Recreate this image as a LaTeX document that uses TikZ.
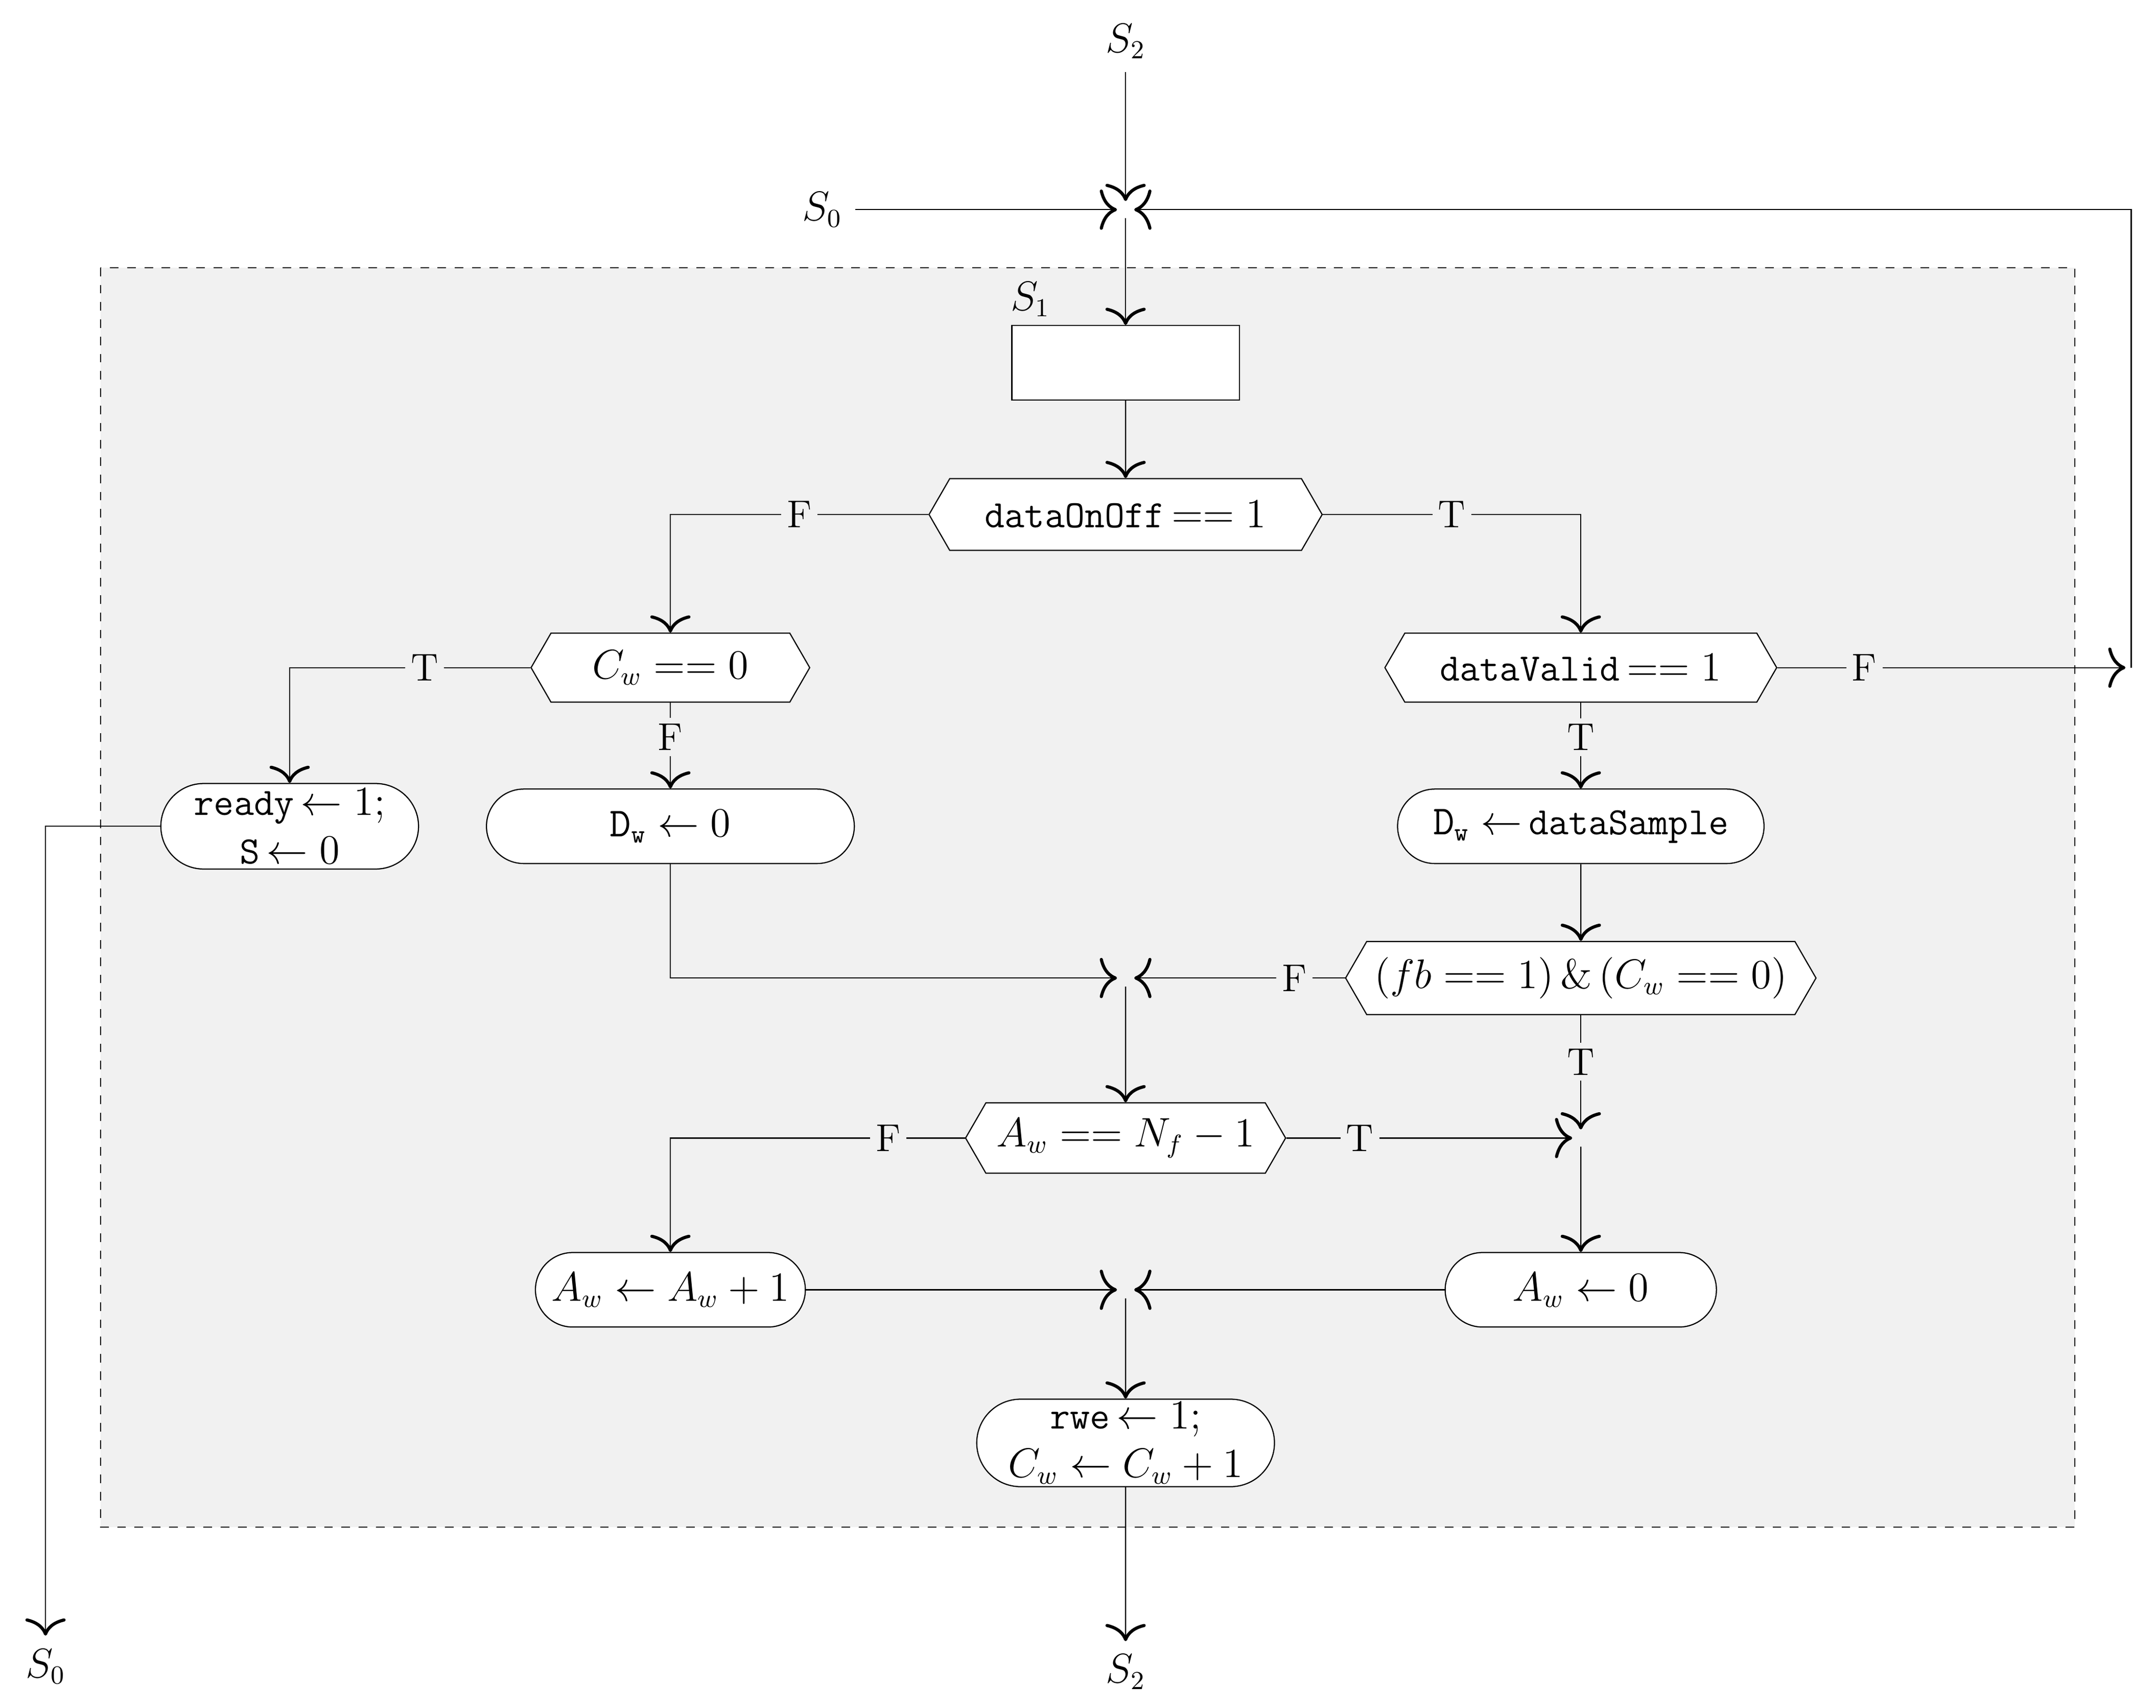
\documentclass[tikz,border=0pt]{standalone}
\usetikzlibrary{arrows.meta,shapes.misc,shapes.symbols}
\begin{document}
\fontsize{13.5}{16}\selectfont
\begin{tikzpicture}[x=0.48pt,y=-0.48pt,
  tip/.style={-{Computer Modern Rightarrow[length=6pt,width=14pt,line width=1.1pt]}},
  arr/.style={tip,shorten >=#1},
  arr/.default=0pt,
  dec/.style={draw,fill=white,signal,signal to=east and west,signal pointer angle=120,inner sep=2pt},
  act/.style={draw,fill=white,rounded rectangle,inner sep=2pt},
  lab/.style={fill=boxgray,inner sep=2pt,font=\fontsize{13.5}{16}\selectfont},
  every node/.style={font=\fontsize{13.5}{16}\selectfont}]
\definecolor{boxgray}{gray}{0.945}
\useasboundingbox (0,0) rectangle (1563,1238);
\fill[boxgray] (73,194) rectangle (1504,1107);
\draw[dashed] (73,194) rectangle (1504,1107);
% junctions and free ends
\coordinate (J1) at (816,152);
\coordinate (J2) at (816,709);
\coordinate (J3) at (1146,825);
\coordinate (J4) at (816,935);
\coordinate (loopE) at (1545,484);
\coordinate (loopC) at (1545,152);
\coordinate (cS0) at (33,599);
\coordinate (cDw) at (486,709);
% nodes
\node (s2t) at (816,30) {$S_2$};
\node (s0t) at (596,152) {$S_0$};
\node (s1l) at (747,217) {$S_1$};
\node[draw,fill=white,minimum width=165*0.48pt,minimum height=54*0.48pt] (S1) at (816,263) {};
\node[dec,minimum width=285*0.48pt,minimum height=52*0.48pt] (d1) at (816,373) {\texttt{dataOnOff}$\,==1$};
\node[dec,minimum width=202*0.48pt,minimum height=50*0.48pt] (cw) at (486,484) {$C_w==0$};
\node[dec,minimum width=284*0.48pt,minimum height=50*0.48pt] (dv) at (1146,484) {\texttt{dataValid}$\,==1$};
\node[act,minimum width=191*0.48pt,minimum height=62*0.48pt,align=center,inner sep=1pt] (rdy) at (210,599) {\texttt{ready}$\,\leftarrow 1;$\\[1pt]\texttt{S}$\,\leftarrow 0$};
\node[act,minimum width=275*0.48pt,minimum height=54*0.48pt] (dw0) at (486,599) {$\mathtt{D}_{\mathtt{w}}\leftarrow 0$};
\node[act,minimum width=274*0.48pt,minimum height=54*0.48pt] (dws) at (1146,599) {$\mathtt{D}_{\mathtt{w}}\leftarrow$\,\texttt{dataSample}};
\node[dec,minimum width=341*0.48pt,minimum height=53*0.48pt] (fb) at (1146,709) {$(fb==1)\,\&\,(C_w==0)$};
\node[dec,minimum width=232*0.48pt,minimum height=51*0.48pt] (aw) at (816,825) {$A_w==N_f-1$};
\node[act,minimum width=204*0.48pt,minimum height=54*0.48pt] (inc) at (486,935) {$A_w\leftarrow A_w+1$};
\node[act,minimum width=205*0.48pt,minimum height=54*0.48pt] (zero) at (1146,935) {$A_w\leftarrow 0$};
\node[act,minimum width=220*0.48pt,minimum height=62*0.48pt,align=center,inner sep=1pt] (rwe) at (816,1046) {\texttt{rwe}$\,\leftarrow 1;$\\[1pt]$C_w\leftarrow C_w+1$};
\node (s2b) at (816,1212) {$S_2$};
\node (s0b) at (33,1208) {$S_0$};
% connectors
\draw[arr=3pt] (s2t) -- (J1);
\draw[arr=3pt] (s0t) -- (J1);
\draw[tip] (dv.east) -- node[lab,pos=0.25] {F} ([xshift=-2pt]loopE);
\draw[arr=3pt] (loopE) -- (loopC) -- (J1);
\draw[tip,shorten <=3pt] (J1) -- (S1);
\draw[tip] (S1) -- (d1);
\draw[tip] (d1.west) -| node[lab,pos=0.25] {F} (cw.north);
\draw[tip] (d1.east) -| node[lab,pos=0.25] {T} (dv.north);
\draw[tip] (cw.west) -| node[lab,pos=0.22] {T} (rdy.north);
\draw[tip] (cw.south) -- node[lab,pos=0.4] {F} (dw0.north);
\draw[tip] (dv.south) -- node[lab,pos=0.4] {T} (dws.north);
\draw[tip] (dws) -- (fb);
\draw[tip] (rdy.west) -- (cS0) -- (s0b.north);
\draw[arr=3pt] (dw0.south) -- (cDw) -- (J2);
\draw[arr=3pt] (fb.west) -- node[lab,pos=0.23] {F} (J2);
\draw[tip,shorten <=3pt] (J2) -- (aw);
\draw[arr=3pt] (fb.south) -- node[lab,pos=0.38] {T} (J3);
\draw[arr=3pt] (aw.east) -- node[lab,pos=0.25] {T} (J3);
\draw[tip,shorten <=3pt] (J3) -- (zero);
\draw[tip] (aw.west) -| node[lab,pos=0.13] {F} (inc.north);
\draw[arr=3pt] (inc.east) -- (J4);
\draw[arr=3pt] (zero.west) -- (J4);
\draw[tip,shorten <=3pt] (J4) -- (rwe);
\draw[tip] (rwe) -- (s2b);
\end{tikzpicture}
\end{document}
